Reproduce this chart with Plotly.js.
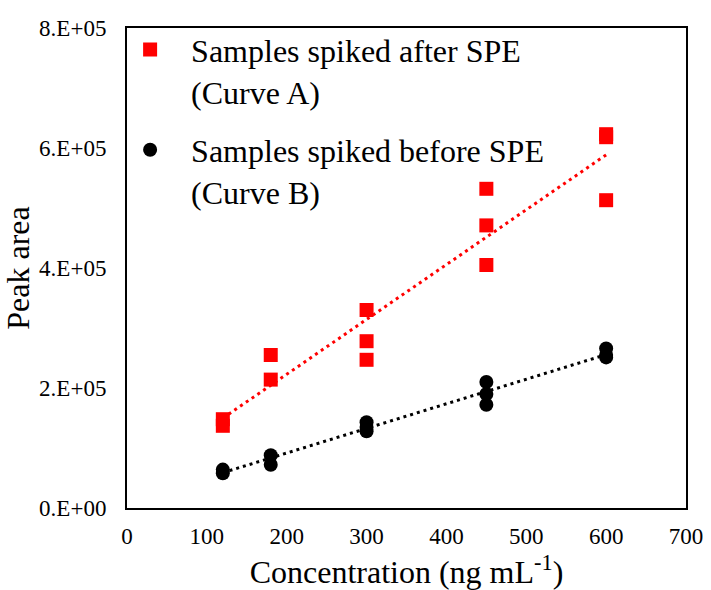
<!DOCTYPE html>
<html>
<head>
<meta charset="utf-8">
<script src="https://cdn.plot.ly/plotly-3.0.1.min.js"></script>
<style>html,body{margin:0;padding:0;background:#fff;}#chart{width:711px;height:590px;}</style>
</head>
<body>
<div id="chart"></div>
<script>
// Concentration (ng mL-1)
const concA = [120, 120, 180, 180, 300, 300, 300, 450, 450, 450, 600, 600, 600];
// Samples spiked after SPE (Curve A) peak areas
const areaA = [148000, 137000, 255000, 214000, 330000, 278000, 247000, 532000, 471000, 405000, 623000, 618000, 513000];
const concB = [120, 120, 180, 180, 300, 300, 300, 450, 450, 450, 600, 600, 600];
// Samples spiked before SPE (Curve B) peak areas
const areaB = [64000, 58000, 88000, 72000, 143000, 135000, 128000, 210000, 190000, 172000, 266000, 255000, 251000];

const nameA = 'Samples spiked after SPE<br>(Curve A)';
const nameB = 'Samples spiked before SPE<br>(Curve B)';
const yTickVals = [0, 200000, 400000, 600000, 800000];
const yTickText = ['0.E+00', '2.E+05', '4.E+05', '6.E+05', '8.E+05'];
const xTickVals = [0, 100, 200, 300, 400, 500, 600, 700];

function linFit(xs, ys) {
  const n = xs.length;
  const mx = xs.reduce((a, b) => a + b, 0) / n;
  const my = ys.reduce((a, b) => a + b, 0) / n;
  let sxy = 0, sxx = 0;
  for (let i = 0; i < n; i++) { sxy += (xs[i] - mx) * (ys[i] - my); sxx += (xs[i] - mx) ** 2; }
  const m = sxy / sxx;
  return { m: m, b: my - m * mx };
}
function trend(xs, ys) {
  const f = linFit(xs, ys);
  const x0 = Math.min(...xs), x1 = Math.max(...xs);
  return { x: [x0, x1], y: [f.m * x0 + f.b, f.m * x1 + f.b] };
}
const tA = trend(concA, areaA);
const tB = trend(concB, areaB);

const font = '"Liberation Serif", "Times New Roman", serif';

const data = [
  { x: tA.x, y: tA.y, mode: 'lines', type: 'scatter', showlegend: false, hoverinfo: 'skip',
    line: { color: '#FF0000', width: 3, dash: '3px,4px' } },
  { x: tB.x, y: tB.y, mode: 'lines', type: 'scatter', showlegend: false, hoverinfo: 'skip',
    line: { color: '#000000', width: 3, dash: '3px,4px' } },
  { x: concA, y: areaA, mode: 'markers', type: 'scatter', name: nameA, legendgroup: 'a',
    marker: { symbol: 'square', size: 14, color: '#FF0000' } },
  { x: concB, y: areaB, mode: 'markers', type: 'scatter', name: nameB, legendgroup: 'b',
    marker: { symbol: 'circle', size: 14, color: '#000000' } }
];

const layout = {
  width: 711, height: 590,
  margin: { l: 127, r: 25, t: 28, b: 82 },
  paper_bgcolor: '#ffffff', plot_bgcolor: '#ffffff',
  font: { family: font, color: '#000000', size: 23 },
  showlegend: true,
  legend: {
    x: -0.032, y: 1.012, xanchor: 'left', yanchor: 'top',
    bgcolor: 'rgba(0,0,0,0)', borderwidth: 0, itemwidth: 72,
    font: { family: font, size: 32, color: '#000' },
    valign: 'top', traceorder: 'grouped', tracegroupgap: 14
  },
  xaxis: {
    range: [0, 700], tickvals: xTickVals, ticks: '', showgrid: false, zeroline: false,
    showline: true, linecolor: '#000', linewidth: 2, mirror: true, ticklabelstandoff: 6,
    tickfont: { family: font, size: 23, color: '#000' },
    title: { text: 'Concentration (ng mL<sup>-1</sup>)', font: { family: font, size: 32, color: '#000' }, standoff: 18 }
  },
  yaxis: {
    range: [0, 800000], tickvals: yTickVals, ticktext: yTickText, zeroline: false, showgrid: false,
    ticks: 'outside', ticklen: 14, tickcolor: 'rgba(0,0,0,0)',
    showline: true, linecolor: '#000', linewidth: 2, mirror: true,
    tickfont: { family: font, size: 23, color: '#000' },
    title: { text: 'Peak area', font: { family: font, size: 32, color: '#000' }, standoff: 3 }
  }
};

Plotly.newPlot('chart', data, layout, { displayModeBar: false, staticPlot: true });
</script>
</body>
</html>
